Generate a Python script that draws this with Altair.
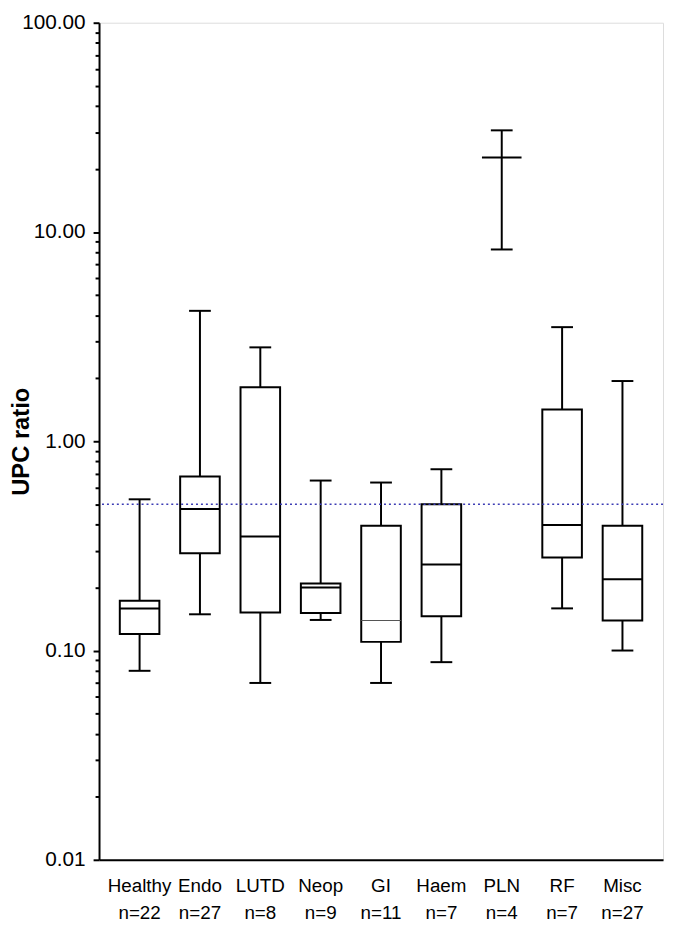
import altair as alt
import pandas as pd

# ---- data ----
cats = ["Healthy", "Endo", "LUTD", "Neop", "GI", "Haem", "PLN", "RF", "Misc"]
ns = [22, 27, 8, 9, 11, 7, 4, 7, 27]
low = [0.080, 0.149, 0.070, 0.140, 0.070, 0.088, 8.25, 0.159, 0.100]
q1 = [0.120, 0.292, 0.152, 0.151, 0.110, 0.146, None, 0.278, 0.139]
median = [0.159, 0.474, 0.351, 0.200, 0.139, 0.258, 22.7, 0.398, 0.219]
q3 = [0.173, 0.678, 1.81, 0.209, 0.395, 0.500, None, 1.42, 0.395]
high = [0.528, 4.20, 2.81, 0.649, 0.635, 0.735, 30.6, 3.51, 1.94]
thin_median = ["GI"]

ref_value = 0.5
major_ticks = [0.01, 0.1, 1, 10, 100]
minor_ticks = [m * 10 ** k for k in range(-2, 2) for m in range(2, 10)]

labels = [f"{c}|n={n}" for c, n in zip(cats, ns)]
df = pd.DataFrame({
    "label": labels, "cat": cats, "low": low, "q1": q1, "median": median,
    "q3": q3, "high": high,
})

FONT = "Liberation Sans"
H = 846

xenc = alt.X(
    "label:N", sort=labels,
    scale=alt.Scale(paddingInner=0, paddingOuter=0.172),
    axis=alt.Axis(
        title=None, labelExpr="split(datum.value, '|')", labelAngle=0,
        labelFontSize=19, labelLineHeight=27, labelPadding=17,
        labelBaseline="top", ticks=False, domainColor="black",
        domainWidth=2, labelColor="black", labelFont=FONT,
    ),
)
yscale = alt.Scale(type="log", domain=[0.01, 100], nice=False)

major_axis = alt.Axis(
    values=major_ticks, format=".2f", title="UPC ratio", titleFontSize=24,
    titleFontWeight="bold", titleColor="black", titleFont=FONT,
    titleX=-78, titleY=H / 2, titleAngle=270, titleAlign="center",
    titleBaseline="middle",
    labelFontSize=21, labelFont=FONT, labelColor="black", labelPadding=8,
    labelFlush=False, labelOverlap=False,
    tickSize=6, tickWidth=2, tickColor="black",
    domainColor="black", domainWidth=2, grid=False,
)
minor_axis = alt.Axis(
    values=minor_ticks, labels=False, title=None, domain=False,
    tickSize=4, tickWidth=2, tickColor="black", grid=False, orient="left",
)

base = alt.Chart(df)

whisk = base.mark_rule(color="black", strokeWidth=2).encode(
    x=xenc, y=alt.Y("low:Q", scale=yscale, axis=major_axis), y2="high:Q"
)
boxes = base.transform_filter("isValid(datum.q1)").mark_bar(
    size=40, fill="white", stroke="black", strokeWidth=2
).encode(x=xenc, y=alt.Y("q1:Q", scale=yscale, axis=None), y2="q3:Q")

med = base.transform_filter(
    "indexof(" + str(thin_median) + ", datum.cat) < 0"
).mark_tick(size=40, thickness=2, color="black", opacity=1).encode(
    x=xenc, y=alt.Y("median:Q", scale=yscale, axis=None)
)
med_thin = base.transform_filter(
    "indexof(" + str(thin_median) + ", datum.cat) >= 0"
).mark_tick(size=40, thickness=1, color="#555555", opacity=1).encode(
    x=xenc, y=alt.Y("median:Q", scale=yscale, axis=None)
)
cap_lo = base.mark_tick(size=22, thickness=2, color="black", opacity=1).encode(
    x=xenc, y=alt.Y("low:Q", scale=yscale, axis=minor_axis)
)
cap_hi = base.mark_tick(size=22, thickness=2, color="black", opacity=1).encode(
    x=xenc, y=alt.Y("high:Q", scale=yscale, axis=None)
)
ref = alt.Chart(pd.DataFrame({"ref": [ref_value]})).mark_rule(
    color="#3c3cb4", strokeWidth=1.6, strokeDash=[2, 3]
).encode(y=alt.Y("ref:Q", scale=yscale, axis=None))

chart = alt.layer(whisk, boxes, med, med_thin, cap_lo, cap_hi, ref).resolve_axis(
    y="independent"
).properties(
    width=570, height=H,
    autosize=alt.AutoSizeParams(type="none"),
    padding={"left": 92, "top": 10, "right": 2, "bottom": 60},
).configure_view(stroke=None).configure(background="white")

chart.save("out.html", embed_options={"renderer": "svg", "actions": False})
